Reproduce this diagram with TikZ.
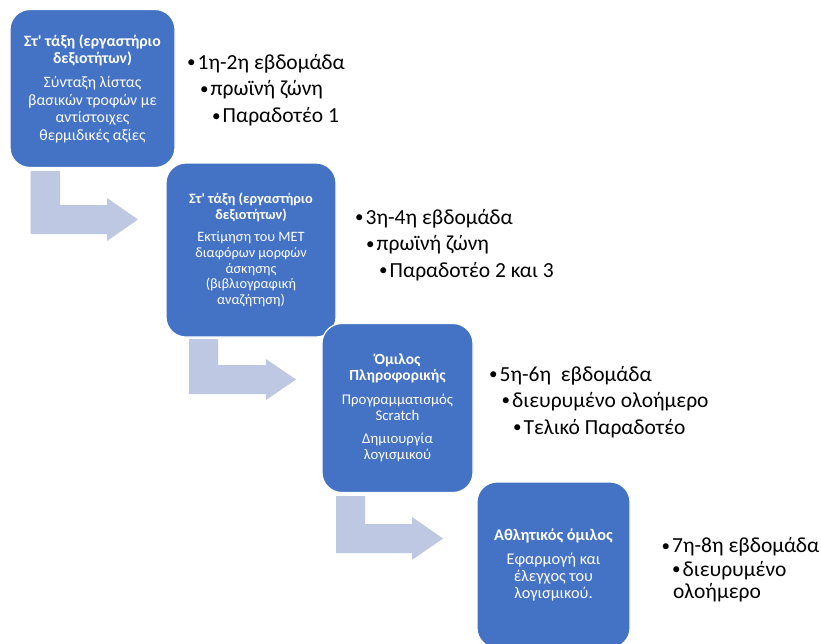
\documentclass[tikz,border=0pt]{standalone}
\usepackage{fontspec}
\setmainfont{Carlito}
\definecolor{boxblue}{HTML}{4472C4}
\definecolor{arrowfill}{HTML}{BEC8E3}
\tikzset{
  box/.style={fill=boxblue, draw=white, line width=1.2pt, rounded corners=20pt,
    text=white, align=center, inner sep=0pt},
  bentarrow/.style={fill=arrowfill, draw=none},
  bul/.style={anchor=base west, inner sep=0pt, text=black,
    font=\fontsize{21.5}{25}\selectfont},
}
\newcommand{\bt}{\makebox[10.5pt][l]{\fontsize{17}{17}\selectfont\raisebox{1.2pt}{•}}}
\begin{document}
\begin{tikzpicture}[x=1pt,y=-1pt]
\useasboundingbox (0,0) rectangle (821,643);
\clip (0,0) rectangle (821,643);
\fill[white] (0,0) rectangle (821,643);

% bent arrows
\fill[bentarrow] (30.7,171) -- (60,171) -- (60,205) -- (107,205) -- (107,198)
  -- (138,219.5) -- (107,241) -- (107,234) -- (30.7,234) -- cycle;
\fill[bentarrow] (189,339) -- (218,339) -- (218,365) -- (266,365) -- (266,359)
  -- (296,379.5) -- (266,400) -- (266,394) -- (189,394) -- cycle;
\fill[bentarrow] (336,496) -- (365,496) -- (365,524) -- (412,524) -- (412,517)
  -- (443,538.5) -- (412,560) -- (412,553) -- (336,553) -- cycle;

% boxes
\node[box, minimum width=165pt, minimum height=158pt, font=\fontsize{15.8}{17.4}\selectfont] (b1) at (92.5,88.5)
  {\textbf{Στ\textquotesingle{} τάξη (εργαστήριο}\\ \textbf{δεξιοτήτων)}\\[7pt]
   Σύνταξη λίστας\\ βασικών τροφών με\\ αντίστοιχες\\ θερμιδικές αξίες};
\node[box, minimum width=170pt, minimum height=174pt, font=\fontsize{14.3}{15.7}\selectfont] (b2) at (251,250)
  {\textbf{Στ\textquotesingle{} τάξη (εργαστήριο}\\ \textbf{δεξιοτήτων)}\\[6.5pt]
   Εκτίμηση του ΜΕΤ\\ διαφόρων μορφών\\ άσκησης\\ (βιβλιογραφική\\ αναζήτηση)};
\node[box, minimum width=151pt, minimum height=169pt, font=\fontsize{14.8}{16.3}\selectfont] (b3) at (397.5,408)
  {{\fontsize{15.5}{16.3}\selectfont\bfseries Όμιλος}\\ {\fontsize{15.5}{16.3}\selectfont\bfseries Πληροφορικής}\\[7pt]
   Προγραμματισμός\\ Scratch\\[7pt] Δημιουργία\\ λογισμικού};
\node[box, minimum width=153pt, minimum height=166pt, font=\fontsize{16.3}{17}\selectfont] (b4) at (553.5,565)
  {\textbf{Αθλητικός όμιλος}\\[7.5pt]
   Εφαρμογή και\\ έλεγχος του\\ λογισμικού.};

% bullet lists
\node[bul] (t11) at (187,69) {\bt 1η-2η εβδομάδα};
\node[bul] (t12) at (200,95.5) {\bt πρωϊνή ζώνη};
\node[bul] (t13) at (212,122.5) {\bt Παραδοτέο 1};

\node[bul] (t21) at (355,224) {\bt 3η-4η εβδομάδα};
\node[bul] (t22) at (366,250.5) {\bt πρωϊνή ζώνη};
\node[bul] (t23) at (379,277) {\bt Παραδοτέο 2 και 3};

\node[bul] (t31) at (489,381) {\bt 5η-6η\ \ εβδομάδα};
\node[bul] (t32) at (501.5,407) {\bt διευρυμένο ολοήμερο};
\node[bul] (t33) at (513,434) {\bt Τελικό Παραδοτέο};

\node[bul] (t41) at (661.5,552.5) {\bt 7η-8η εβδομάδα};
\node[bul] (t42) at (672,576) {\bt διευρυμένο};
\node[bul] (t43) at (673,598) {ολοήμερο};
\end{tikzpicture}
\end{document}
